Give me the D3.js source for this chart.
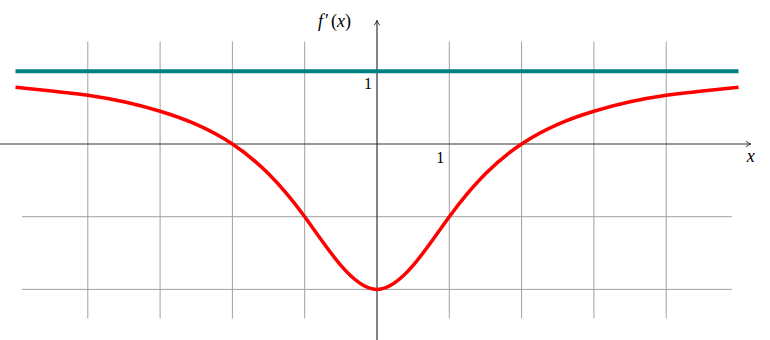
<!DOCTYPE html>
<html>
<head>
<meta charset="utf-8">
<script src="https://cdn.jsdelivr.net/npm/d3@7"></script>
<style>
  body { margin: 0; background: #fff; }
  text { font-family: "Liberation Serif", "DejaVu Serif", serif; }
</style>
</head>
<body>
<div id="plot"></div>
<script>
// values
const curveX = [-5, -4.5, -4, -3.5, -3, -2.5, -2, -1.5, -1, -0.5, 0, 0.5, 1, 1.5, 2, 2.5, 3, 3.5, 4, 4.5, 5];
const curveY = [0.78, 0.73, 0.67, 0.58, 0.45, 0.27, 0, -0.41, -1, -1.67, -2, -1.67, -1, -0.41, 0, 0.27, 0.45, 0.58, 0.67, 0.73, 0.78];
const constX = [-5, 5];
const constY = [1, 1];
const gridX = [-4, -3, -2, -1, 1, 2, 3, 4];
const gridY = [-2, -1];
const xTicks = [1];
const yTicks = [1];

const svgWidth = 770, svgHeight = 340;

const x = d3.scaleLinear().domain([0, 1]).range([377, 449.3]);
const y = d3.scaleLinear().domain([0, 1]).range([144, 71.3]);

const svg = d3.select('#plot')
    .append('svg')
    .attr("width", svgWidth)
    .attr("height", svgHeight);

// grid
svg.selectAll(".gx")
    .data(gridX)
    .enter()
    .append("line")
    .attr("x1", d => x(d))
    .attr("x2", d => x(d))
    .attr("y1", y(1.41))
    .attr("y2", y(-2.4))
    .attr("stroke", "#a0a0a0")
    .attr("stroke-width", 1);

svg.selectAll(".gy")
    .data(gridY)
    .enter()
    .append("line")
    .attr("x1", x(-4.91))
    .attr("x2", x(4.91))
    .attr("y1", d => y(d))
    .attr("y2", d => y(d))
    .attr("stroke", "#a0a0a0")
    .attr("stroke-width", 1);

// arrow head
svg.append("defs")
    .append("marker")
    .attr("id", "arr")
    .attr("viewBox", "0 0 10 10")
    .attr("refX", 9)
    .attr("refY", 5)
    .attr("markerWidth", 7)
    .attr("markerHeight", 7)
    .attr("markerUnits", "userSpaceOnUse")
    .attr("orient", "auto")
    .append("path")
    .attr("d", "M2,1 Q6,4 9,5 Q6,6 2,9")
    .attr("fill", "none")
    .attr("stroke", "#222")
    .attr("stroke-width", 1.3);

// axes
svg.append("line")
    .attr("x1", x(-5.22))
    .attr("x2", x(5.17))
    .attr("y1", y(0))
    .attr("y2", y(0))
    .attr("stroke", "#333")
    .attr("stroke-width", 1.2)
    .attr("marker-end", "url(#arr)");

svg.append("line")
    .attr("x1", x(0))
    .attr("x2", x(0))
    .attr("y1", y(-2.7))
    .attr("y2", y(1.7))
    .attr("stroke", "#333")
    .attr("stroke-width", 1.2)
    .attr("marker-end", "url(#arr)");

// constant line
const line = d3.line()
    .x(d => x(d[0]))
    .y(d => y(d[1]));

svg.append("path")
    .datum(constX.map((d, i) => [d, constY[i]]))
    .attr("d", line)
    .attr("fill", "none")
    .attr("stroke", "#008080")
    .attr("stroke-width", 4);

// curve
svg.append("path")
    .datum(curveX.map((d, i) => [d, curveY[i]]))
    .attr("d", line.curve(d3.curveNatural))
    .attr("fill", "none")
    .attr("stroke", "#ff0000")
    .attr("stroke-width", 3.5);

// tick labels
svg.selectAll(".xt")
    .data(xTicks)
    .enter()
    .append("text")
    .attr("x", d => x(d) - 5)
    .attr("y", y(0) + 19)
    .attr("text-anchor", "end")
    .attr("font-size", 16)
    .text(d => d);

svg.selectAll(".yt")
    .data(yTicks)
    .enter()
    .append("text")
    .attr("x", x(0) - 5)
    .attr("y", y(1) + 18)
    .attr("text-anchor", "end")
    .attr("font-size", 16)
    .text(d => d);

// axis labels
svg.append("text")
    .attr("x", x(5.17))
    .attr("y", y(0) + 18)
    .attr("text-anchor", "middle")
    .attr("font-size", 18)
    .attr("font-style", "italic")
    .text("x");

const yl = svg.append("text")
    .attr("x", 318)
    .attr("y", 27)
    .attr("font-size", 18);
yl.append("tspan").attr("font-style", "italic").text("f");
yl.append("tspan").attr("dx", 2).text("\u2032");
yl.append("tspan").attr("dx", 2).text("(");
yl.append("tspan").attr("font-style", "italic").text("x");
yl.append("tspan").text(")");
</script>
</body>
</html>
